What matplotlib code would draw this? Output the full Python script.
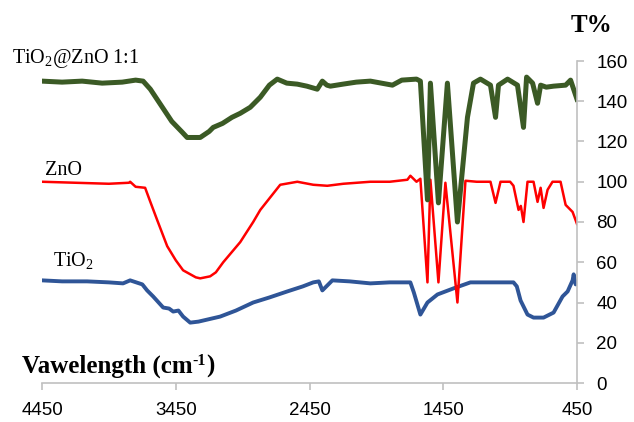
import numpy as np
import matplotlib
matplotlib.use("Agg")
from matplotlib import pyplot as plt

plt.rcParams['font.family'] = 'Liberation Serif'
plt.rcParams['mathtext.fontset'] = 'custom'
plt.rcParams['mathtext.rm'] = 'Liberation Serif'

# TiO2@ZnO 1:1 (green)
wn_mix = [4450, 4300, 4150, 4000, 3850, 3750, 3694, 3640, 3560, 3480, 3400, 3365,
          3267, 3200, 3170, 3100, 3030, 2968, 2893, 2818, 2750, 2691, 2620, 2541,
          2470, 2392, 2354, 2320, 2294, 2200, 2100, 1995, 1830, 1760, 1650, 1621,
          1568, 1546, 1486, 1419, 1344, 1269, 1224, 1172, 1097, 1059, 1037, 969,
          895, 850, 827, 782, 745, 722, 680, 625, 535, 498, 450]
t_mix = [150, 149.5, 150, 149, 149.5, 150.5, 150, 146, 138, 130, 124.5, 122,
         122, 125, 127, 129, 132, 134, 137, 142, 148, 151, 149, 148.5,
         147.5, 146, 150, 148, 147.5, 148.5, 149.5, 150, 148, 150.5, 151, 150,
         91, 149, 89.5, 149, 80, 132, 149, 151, 148, 132, 148, 151,
         148, 127, 152, 149, 139, 148, 147, 147.5, 148, 150.5, 141]

# ZnO (red)
wn_zno = [4450, 4200, 3950, 3800, 3791, 3750, 3679, 3640, 3589, 3514, 3450, 3395,
          3300, 3267, 3193, 3150, 3095, 2968, 2871, 2818, 2669, 2541, 2422, 2317,
          2197, 1995, 1850, 1718, 1696, 1650, 1621, 1568, 1546, 1486, 1434, 1344,
          1284, 1200, 1097, 1059, 1022, 950, 925, 887, 870, 850, 820, 775,
          745, 722, 700, 670, 633, 573, 535, 483, 450]
t_zno = [100, 99.5, 99, 99.5, 100, 97.5, 97, 90, 81, 68, 61, 56,
         52.5, 52, 53, 55, 60, 70, 80, 86, 98.5, 100, 98.5, 98,
         99, 100, 100, 101, 103, 100, 101.5, 50, 101, 50, 99.5, 40,
         100.5, 100, 100, 89.5, 100, 100, 98, 86, 88, 80, 100, 100,
         90, 97, 87, 96, 100, 100, 88.5, 85, 79]

# TiO2 (blue)
wn_tio2 = [4450, 4300, 4113, 3950, 3844, 3791, 3700, 3664, 3619, 3544, 3500, 3469,
           3430, 3395, 3342, 3280, 3215, 3118, 3000, 2871, 2750, 2616, 2500, 2422,
           2380, 2354, 2279, 2150, 1995, 1850, 1696, 1670, 1621, 1568, 1493, 1374,
           1247, 1100, 925, 900, 872, 820, 775, 700, 625, 558, 520, 483,
           475, 460, 450]
t_tio2 = [51, 50.5, 50.5, 50, 49.5, 51, 49, 46, 43, 37.5, 37, 35.5,
          36, 33, 30, 30.5, 31.5, 33, 36, 40, 42.5, 45.5, 48, 50,
          50.5, 46, 51, 50.5, 49.5, 50, 50, 45, 34, 40, 44, 47,
          50, 50, 50, 48, 41, 34, 32.5, 32.5, 35, 43, 45.5, 51,
          54, 49, 50]

x_ticks = [4450, 3450, 2450, 1450, 450]
y_ticks = np.arange(0, 161, 20)

fig = plt.figure(figsize=(6.34, 4.22), dpi=100)
ax = fig.add_axes([42 / 634, 1 - 383 / 422, 535 / 634, 322 / 422])

ax.plot(wn_tio2, t_tio2, color='#2f5597', lw=2.8, solid_joinstyle='round')
ax.plot(wn_zno, t_zno, color='#ff0000', lw=1.8, solid_joinstyle='round')
ax.plot(wn_mix, t_mix, color='#3b5a25', lw=3.6, solid_joinstyle='round')

ax.set_xlim(4450, 450)
ax.set_ylim(0, 160)
ax.set_xticks(x_ticks)
ax.set_yticks(y_ticks)
ax.yaxis.tick_right()

for s in ['top', 'left']:
    ax.spines[s].set_visible(False)
for s in ['bottom', 'right']:
    ax.spines[s].set_color('#c0c0c0')
    ax.spines[s].set_linewidth(1.2)
ax.tick_params(axis='both', direction='out', length=5, width=1.2, color='#c0c0c0',
               labelsize=13.5, labelcolor='#000000')
ax.tick_params(axis='x', pad=9)
ax.tick_params(axis='y', pad=9)
for lab in ax.get_xticklabels() + ax.get_yticklabels():
    lab.set_fontfamily('Liberation Sans')

fig.text(12 / 634, 1 - 63 / 422, 'TiO$_2$@ZnO 1:1', fontsize=14.5, va='baseline')
fig.text(45 / 634, 1 - 175 / 422, 'ZnO', fontsize=14.5, va='baseline')
fig.text(53 / 634, 1 - 267 / 422, 'TiO$_2$', fontsize=14.5, va='baseline')
fig.text(571 / 634, 1 - 32 / 422, 'T%', fontsize=18, fontweight='bold', va='baseline')

# axis title with a plain-hyphen superscript
renderer = fig.canvas.get_renderer()
t1 = fig.text(22 / 634, 1 - 373 / 422, 'Vawelength (cm', fontsize=18,
              fontweight='bold', va='baseline')
x1 = t1.get_window_extent(renderer).x1 / fig.bbox.width
t2 = fig.text(x1, 1 - 365 / 422, '-1', fontsize=11.5, fontweight='bold', va='baseline')
x2 = t2.get_window_extent(renderer).x1 / fig.bbox.width
fig.text(x2, 1 - 373 / 422, ')', fontsize=18, fontweight='bold', va='baseline')

fig.savefig('out.png', dpi=100)
